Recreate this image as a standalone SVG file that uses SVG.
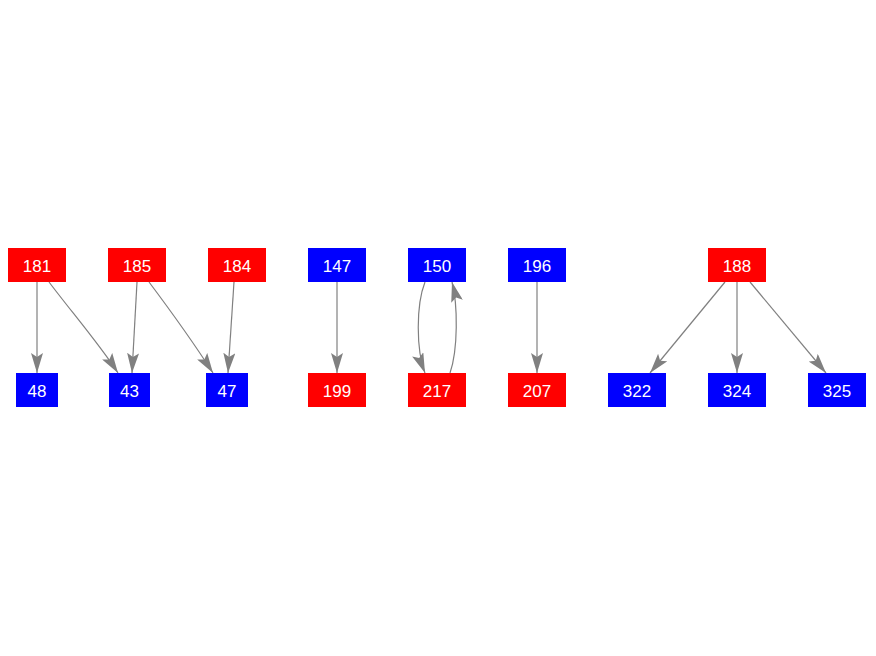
<svg xmlns="http://www.w3.org/2000/svg" width="876" height="656" viewBox="0 0 876 656">
<style>
.r{fill:#ff0000}
.b{fill:#0000ff}
.t{fill:#ffffff;font-family:"Liberation Sans",Arial,sans-serif;font-size:17px;text-anchor:middle}
.e{fill:none;stroke:#808080;stroke-width:1.2;marker-end:url(#ah)}
</style>
<defs>
<marker id="ah" viewBox="0 0 20 12" markerWidth="20" markerHeight="12" refX="20" refY="6" orient="auto" markerUnits="userSpaceOnUse">
<path d="M0,0 L20,6 L0,12 L4,6 Z" fill="#808080"/>
</marker>
</defs>
<rect width="876" height="656" fill="#ffffff"/>
<g id="edges">
<path class="e" d="M37,282 L37,373"/>
<path class="e" d="M49,282 C70,310 100,345 118,373"/>
<path class="e" d="M137,282 L132,373"/>
<path class="e" d="M149,282 C170,310 195,345 213,373"/>
<path class="e" d="M234,282 L228,373"/>
<path class="e" d="M337,282 L337,373"/>
<path class="e" d="M425,282 C416,305 416,350 425,373"/>
<path class="e" d="M450,373 C458,350 458,305 452,282"/>
<path class="e" d="M537,282 L537,373"/>
<path class="e" d="M725,282 L650,373"/>
<path class="e" d="M737,282 L737,373"/>
<path class="e" d="M750,282 L826,373"/>
</g>
<g id="n181"><rect class="r" x="8" y="248" width="58" height="34"/><text class="t" x="37" y="271.500">181</text></g>
<g id="n185"><rect class="r" x="108" y="248" width="58" height="34"/><text class="t" x="137" y="271.500">185</text></g>
<g id="n184"><rect class="r" x="208" y="248" width="58" height="34"/><text class="t" x="237" y="271.500">184</text></g>
<g id="n147"><rect class="b" x="308" y="248" width="58" height="34"/><text class="t" x="337" y="271.500">147</text></g>
<g id="n150"><rect class="b" x="408" y="248" width="58" height="34"/><text class="t" x="437" y="271.500">150</text></g>
<g id="n196"><rect class="b" x="508" y="248" width="58" height="34"/><text class="t" x="537" y="271.500">196</text></g>
<g id="n188"><rect class="r" x="708" y="248" width="58" height="34"/><text class="t" x="737" y="271.500">188</text></g>
<g id="n48"><rect class="b" x="16" y="373" width="42" height="34"/><text class="t" x="37" y="396.500">48</text></g>
<g id="n43"><rect class="b" x="109" y="373" width="41" height="34"/><text class="t" x="129.500" y="396.500">43</text></g>
<g id="n47"><rect class="b" x="206" y="373" width="42" height="34"/><text class="t" x="227" y="396.500">47</text></g>
<g id="n199"><rect class="r" x="308" y="373" width="58" height="34"/><text class="t" x="337" y="396.500">199</text></g>
<g id="n217"><rect class="r" x="408" y="373" width="58" height="34"/><text class="t" x="437" y="396.500">217</text></g>
<g id="n207"><rect class="r" x="508" y="373" width="58" height="34"/><text class="t" x="537" y="396.500">207</text></g>
<g id="n322"><rect class="b" x="608" y="373" width="58" height="34"/><text class="t" x="637" y="396.500">322</text></g>
<g id="n324"><rect class="b" x="708" y="373" width="58" height="34"/><text class="t" x="737" y="396.500">324</text></g>
<g id="n325"><rect class="b" x="808" y="373" width="58" height="34"/><text class="t" x="837" y="396.500">325</text></g>
</svg>
